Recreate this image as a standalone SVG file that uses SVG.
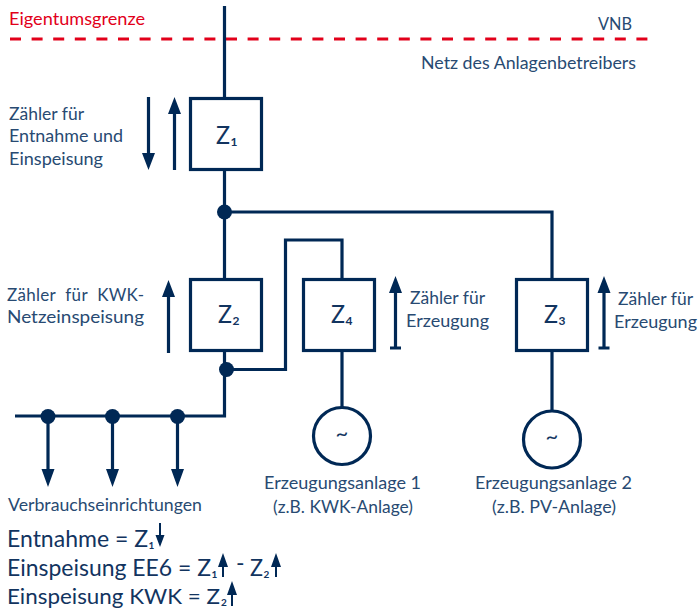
<svg xmlns="http://www.w3.org/2000/svg" width="699" height="612" viewBox="0 0 699 612">
<style>
text{font-family:"Lato","Open Sans",sans-serif;fill:#284a72;font-size:17px}
.big{font-size:23px;fill:#12345f}
.z{font-size:25px;fill:#12345f}
.sub{font-size:12px;font-weight:700;fill:#12345f}
.fsub{font-size:10px;font-weight:700;fill:#12345f}
.tilde{font-size:22px;fill:#12345f}
.line{fill:none;stroke:#002855;stroke-width:3.2}
.box{fill:#fff;stroke:#002855;stroke-width:3.2}
.dot{fill:#002855}
.red{fill:#e2001a}
</style>
<g id="eigentumsgrenze">
<line x1="10" y1="39" x2="648" y2="39" stroke="#e2001a" stroke-width="3" stroke-dasharray="11 10.6"/>
<text class="red" x="9" y="25" textLength="136" lengthAdjust="spacingAndGlyphs">Eigentumsgrenze</text>
<text x="598" y="30" textLength="34" lengthAdjust="spacingAndGlyphs">VNB</text>
<text x="421" y="69" textLength="215" lengthAdjust="spacingAndGlyphs">Netz des Anlagenbetreibers</text>
</g>
<g id="connectors">
<path class="line" d="M224.5 6V98M224.5 169V279M224.5 212H552V279M224.5 350V416H15M226 369.5H285.500V240H342V279M342 350V407M552 350V412"/>
<path class="line" d="M48 416V470M112.500 416V470M177.500 416V470"/>
<path class="dot" d="M41.500 469H54.500L48 487ZM106 469H119L112.500 487ZM171 469H184L177.500 487Z"/>
<circle class="dot" cx="224.500" cy="212" r="7.500"/>
<circle class="dot" cx="226.500" cy="369.500" r="7.500"/>
<circle class="dot" cx="48" cy="416.500" r="7.500"/>
<circle class="dot" cx="112.500" cy="416.500" r="7.500"/>
<circle class="dot" cx="177.500" cy="416.500" r="7.500"/>
</g>
<g id="arrows">
<path class="line" d="M148.500 97V155M174.500 170V112M168.500 353V295M395.500 348V293M390 348H401M604 348V293M598.500 348H609.500"/>
<path class="dot" d="M142 153H155L148.500 170ZM168 114H181L174.500 97ZM162 297H175L168.500 280ZM389 293H402L395.500 276ZM597.500 293H610.500L604 276Z"/>
</g>
<g id="z1"><rect class="box" x="190.500" y="98.500" width="71" height="71"/><text class="z" x="216" y="144" textLength="14" lengthAdjust="spacingAndGlyphs">Z</text><text class="sub" x="230.500" y="146">1</text></g>
<g id="z2"><rect class="box" x="190.500" y="279.500" width="71" height="71"/><text class="z" x="218" y="323" textLength="14" lengthAdjust="spacingAndGlyphs">Z</text><text class="sub" x="232.500" y="325">2</text></g>
<g id="z4"><rect class="box" x="303.500" y="279.500" width="71" height="71"/><text class="z" x="331" y="323" textLength="14" lengthAdjust="spacingAndGlyphs">Z</text><text class="sub" x="345.500" y="325">4</text></g>
<g id="z3"><rect class="box" x="516.500" y="279.500" width="71" height="71"/><text class="z" x="544" y="323" textLength="14" lengthAdjust="spacingAndGlyphs">Z</text><text class="sub" x="558.500" y="325">3</text></g>
<g id="gen1"><circle class="box" cx="342" cy="436" r="28.500"/><text class="tilde" x="342" y="441" text-anchor="middle">~</text></g>
<g id="gen2"><circle class="box" cx="552" cy="439.500" r="28.500"/><text class="tilde" x="552" y="444" text-anchor="middle">~</text></g>
<g id="labels">
<text x="9" y="120" textLength="75" lengthAdjust="spacingAndGlyphs">Zähler für</text>
<text x="9" y="142" textLength="114" lengthAdjust="spacingAndGlyphs">Entnahme und</text>
<text x="9" y="165" textLength="94" lengthAdjust="spacingAndGlyphs">Einspeisung</text>
<text x="7" y="301" textLength="137" lengthAdjust="spacing" word-spacing="5">Zähler für KWK-</text>
<text x="7" y="323" textLength="137" lengthAdjust="spacingAndGlyphs">Netzeinspeisung</text>
<text x="410" y="304" textLength="75" lengthAdjust="spacingAndGlyphs">Zähler für</text>
<text x="406" y="327" textLength="83" lengthAdjust="spacingAndGlyphs">Erzeugung</text>
<text x="618" y="305" textLength="75" lengthAdjust="spacingAndGlyphs">Zähler für</text>
<text x="614" y="328" textLength="83" lengthAdjust="spacingAndGlyphs">Erzeugung</text>
<text x="8" y="511" textLength="194" lengthAdjust="spacingAndGlyphs">Verbrauchseinrichtungen</text>
<text x="264" y="489" textLength="157" lengthAdjust="spacingAndGlyphs">Erzeugungsanlage 1</text>
<text x="273" y="513" textLength="140" lengthAdjust="spacingAndGlyphs">(z.B. KWK-Anlage)</text>
<text x="475" y="489" textLength="157" lengthAdjust="spacingAndGlyphs">Erzeugungsanlage 2</text>
<text x="492" y="513" textLength="124" lengthAdjust="spacingAndGlyphs">(z.B. PV-Anlage)</text>
</g>
<g id="formulas">
<text class="big" x="7" y="547" textLength="141" lengthAdjust="spacingAndGlyphs">Entnahme = Z</text><text class="fsub" x="148.500" y="549">1</text>
<text class="big" x="7" y="576" textLength="204" lengthAdjust="spacingAndGlyphs">Einspeisung EE6 = Z</text><text class="fsub" x="211.500" y="578">1</text>
<text class="big" x="236" y="571">-</text>
<text class="big" x="250" y="576" textLength="13" lengthAdjust="spacingAndGlyphs">Z</text><text class="fsub" x="263.500" y="578">2</text>
<text class="big" x="7" y="604" style="font-size:21.500px" textLength="213" lengthAdjust="spacingAndGlyphs">Einspeisung KWK = Z</text><text class="fsub" x="221" y="606">2</text>
<path stroke="#002855" stroke-width="2" d="M160 523V536M223 566V577M276 566V577M232 592V606" fill="none"/>
<path class="dot" d="M155.500 535H164.500L160 547ZM218 567H228L223 553ZM271 567H281L276 553ZM227 595H237L232 581Z"/>
</g>
</svg>
